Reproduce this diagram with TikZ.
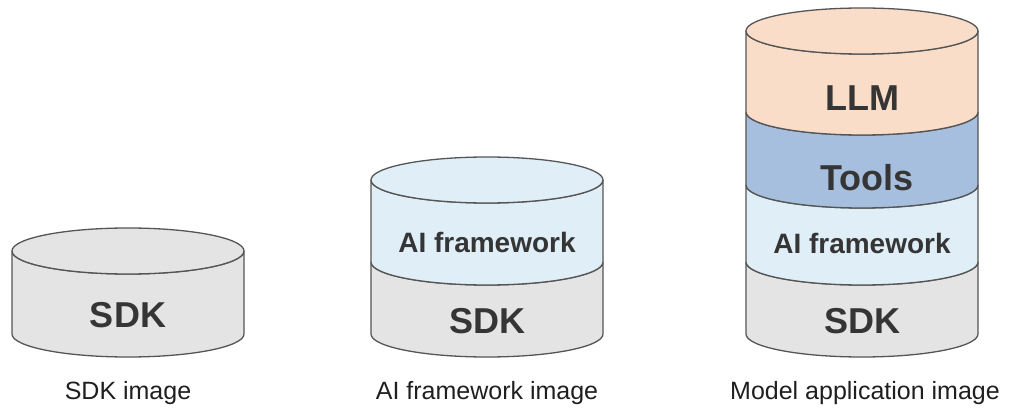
\documentclass[tikz,border=0pt]{standalone}
\usepackage{fontspec}
\setmainfont{Liberation Sans}
\usetikzlibrary{positioning}
\definecolor{sdkgray}{HTML}{E4E4E4}
\definecolor{aiblue}{HTML}{DFEEF7}
\definecolor{toolblue}{HTML}{A6BFDF}
\definecolor{llmpeach}{HTML}{F9DDC9}
\definecolor{edgegray}{HTML}{555555}
\definecolor{labelgray}{HTML}{353535}
% one slab of a stack: centre x, top y, bottom y, fill
\newcommand{\diskpart}[4]{%
  \filldraw[disk,fill=#4] (#1-116,-#2) -- (#1-116,-#3)
    arc[start angle=180,end angle=360,x radius=116pt,y radius=23pt]
    -- (#1+116,-#2)
    arc[start angle=360,end angle=180,x radius=116pt,y radius=23pt] -- cycle;}
\newcommand{\disktop}[3]{%
  \filldraw[disk,fill=#3] (#1,-#2) ellipse[x radius=116pt,y radius=23pt];}

\begin{document}
\begin{tikzpicture}[x=1pt,y=1pt,
    disk/.style={draw=edgegray,line width=1.3pt,line join=round},
    every node/.style={text=labelgray,inner sep=0pt},
    lbl/.style={font=\fontsize{36}{42}\selectfont\bfseries,anchor=base},
    lblsmall/.style={font=\fontsize{28}{34}\selectfont\bfseries,anchor=base},
    caption/.style={font=\fontsize{25}{30}\selectfont,text=black!88,anchor=base}]
    \useasboundingbox (0,0) rectangle (1027,-414);

    % SDK image
    \diskpart{128}{251}{334}{sdkgray}
    \disktop{128}{251}{sdkgray}
    \node[lbl] (sdkA) at (128,-327) {SDK};
    \node[caption] (capA) at (128,-399) {SDK image};

    % AI framework image
    \diskpart{487}{262}{334}{sdkgray}
    \diskpart{487}{180}{262}{aiblue}
    \disktop{487}{180}{aiblue}
    \node[lbl] (sdkB) at (487,-333) {SDK};
    \node[lblsmall] (aiB) at (487,-252) {AI framework};
    \node[caption] (capB) at (487,-399) {AI framework image};

    % Model application image
    \diskpart{862}{262}{334}{sdkgray}
    \diskpart{862}{185}{262}{aiblue}
    \diskpart{862}{112}{185}{toolblue}
    \diskpart{862}{31}{112}{llmpeach}
    \disktop{862}{31}{llmpeach}
    \node[lbl] (sdkC) at (862,-333) {SDK};
    \node[lblsmall] (aiC) at (862,-253) {AI framework};
    \node[lbl] (toolsC) at (867,-190) {Tools};
    \node[lbl] (llmC) at (862,-111) {LLM};
    \node[caption] (capC) at (865,-399) {Model application image};
\end{tikzpicture}
\end{document}
